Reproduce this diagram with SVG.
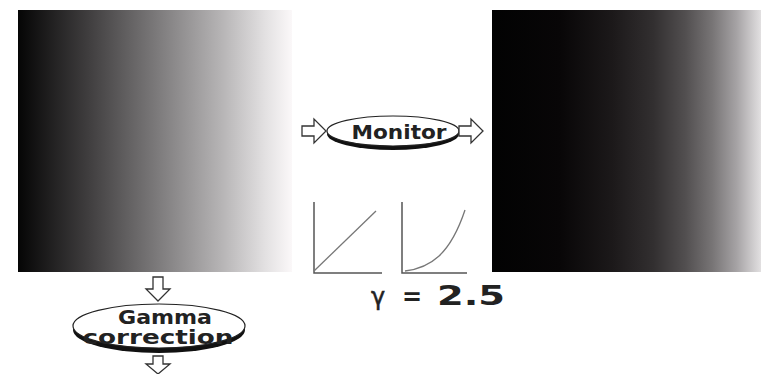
<svg xmlns="http://www.w3.org/2000/svg" width="761" height="374" viewBox="0 0 761 374">
<defs>
<linearGradient id="linG" x1="0" y1="0" x2="1" y2="0">
<stop offset="0" stop-color="#050505"/>
<stop offset="0.25" stop-color="#3e3c3d"/>
<stop offset="0.5" stop-color="#7a7879"/>
<stop offset="0.75" stop-color="#b8b6b7"/>
<stop offset="0.9" stop-color="#e2e0e1"/>
<stop offset="1" stop-color="#fbf8f9"/>
</linearGradient>
<linearGradient id="gamG" x1="0" y1="0" x2="1" y2="0">
<stop offset="0" stop-color="#020202"/>
<stop offset="0.25" stop-color="#080607"/>
<stop offset="0.45" stop-color="#1c191a"/>
<stop offset="0.6" stop-color="#322f30"/>
<stop offset="0.72" stop-color="#524f50"/>
<stop offset="0.82" stop-color="#787576"/>
<stop offset="0.91" stop-color="#a6a3a5"/>
<stop offset="1" stop-color="#e2e0e1"/>
</linearGradient>
<style>
.arr{fill:#fff;stroke:#333;stroke-width:1.3;stroke-linejoin:miter}
.sh{fill:#111}
.el{fill:#fff;stroke:#222;stroke-width:1.2}
.lbl{font-family:"DejaVu Sans",Verdana,sans-serif;font-weight:bold;fill:#222}
.ax{stroke:#555;stroke-width:1.5;fill:none}
.cv{stroke:#777;stroke-width:1.3;fill:none}
</style>
</defs>
<rect width="761" height="374" fill="#fff"/>
<g id="original">
<rect x="18" y="10" width="274" height="262" fill="url(#linG)"/>
</g>
<g id="displayed">
<rect x="492" y="10" width="269" height="262" fill="url(#gamG)"/>
</g>
<g id="monitor">
<ellipse cx="393" cy="134" rx="66" ry="16" class="sh"/>
<ellipse cx="393" cy="131" rx="66" ry="15" class="el"/>
<text x="399" y="139" text-anchor="middle" class="lbl" font-size="20" textLength="95" lengthAdjust="spacingAndGlyphs">Monitor</text>
</g>
<g id="gamma-correction">
<ellipse cx="159" cy="330" rx="86" ry="23" class="sh"/>
<ellipse cx="159" cy="326" rx="86" ry="22" class="el"/>
<text x="165" y="324" text-anchor="middle" class="lbl" font-size="19" textLength="94" lengthAdjust="spacingAndGlyphs">Gamma</text>
<text x="158" y="344" text-anchor="middle" class="lbl" font-size="19" textLength="151" lengthAdjust="spacingAndGlyphs">correction</text>
</g>
<g id="graphs">
<path class="ax" d="M314,202 V273 H382"/>
<path class="cv" d="M314,271 L376,211"/>
<path class="ax" d="M402,202 V273 H467"/>
<path class="cv" d="M405,271 C430,268 450,255 465,210"/>
</g>
<g id="gamma-label">
<text x="371" y="305" font-family="'DejaVu Sans',sans-serif" font-size="24" fill="#222" stroke="#222" stroke-width="0.5">γ</text>
<text x="402" y="305" class="lbl" font-size="24">=</text>
<text x="437" y="305" class="lbl" font-size="26" textLength="68" lengthAdjust="spacingAndGlyphs">2.5</text>
</g>
<g id="connectors">
<path class="arr" d="M302,126 H314 V119 L326,131 L314,143 V136 H302 Z"/>
<path class="arr" d="M459,126 H471 V119 L483,131 L471,143 V136 H459 Z"/>
<path class="arr" d="M153,277 V289 H146 L158,301 L170,289 H163 V277 Z"/>
<path class="arr" d="M153,356 V364 H146 L158,374 L170,364 H163 V356 Z"/>
</g>
</svg>
